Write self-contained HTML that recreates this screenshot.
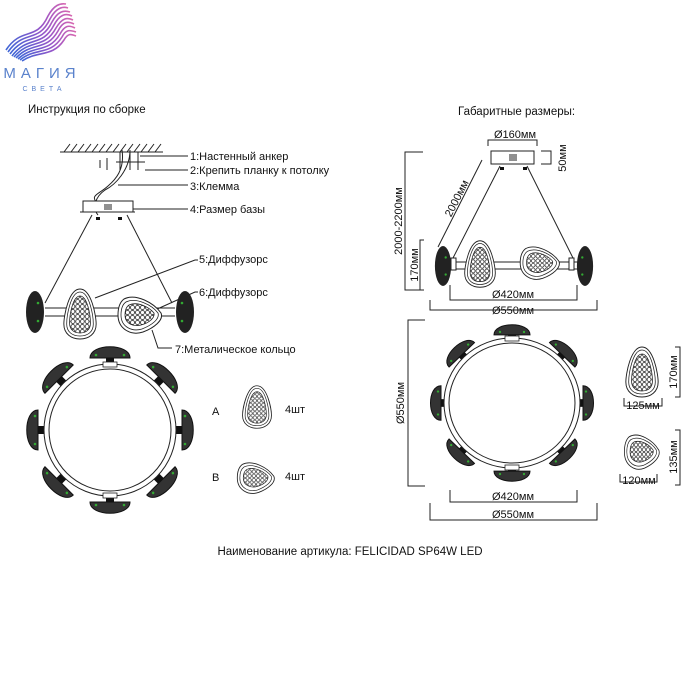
<!DOCTYPE html>
<html><head><meta charset="utf-8"><style>
html,body{margin:0;padding:0;background:#fff;}
svg{display:block;font-family:"Liberation Sans",sans-serif;}
</style></head><body>
<svg width="700" height="700" viewBox="0 0 700 700" xmlns="http://www.w3.org/2000/svg">
<defs>
<linearGradient id="wg" x1="0" x2="1" y1="0" y2="0">
<stop offset="0" stop-color="#3f66d6"/><stop offset="0.6" stop-color="#9a55c8"/><stop offset="1" stop-color="#d868b0"/></linearGradient>
<pattern id="dots" width="5" height="5" patternUnits="userSpaceOnUse">
<rect width="5" height="5" fill="#fff"/><circle cx="2.5" cy="2.5" r="2" fill="none" stroke="#222" stroke-width="0.8"/></pattern>
<g id="egg">
<path d="M0,-25 C12,-25 17,2 17,10 C17,20 9,25 0,25 C-9,25 -17,20 -17,10 C-17,2 -12,-25 0,-25Z" fill="#fff" stroke="#222" stroke-width="1"/>
<path d="M0,-22 C10,-22 14,2 14,10 C14,18 8,22 0,22 C-8,22 -14,18 -14,10 C-14,2 -10,-22 0,-22Z" fill="none" stroke="#222" stroke-width="0.8"/>
<path d="M0,-18 C8,-18 11,2 11,9 C11,16 6,19 0,19 C-6,19 -11,16 -11,9 C-11,2 -8,-18 0,-18Z" fill="url(#dots)" stroke="#222" stroke-width="0.8"/>
</g>
<g id="tri">
<path d="M-16,-16 C-4,-22 14,-12 21,-2 C24,5 14,13 3,17 C-9,21 -22,14 -22,0 C-22,-8 -20,-13 -16,-16Z" fill="#fff" stroke="#222" stroke-width="1"/>
<path d="M-14,-13 C-4,-18 12,-10 18,-2 C20,4 12,10 2,14 C-8,17 -19,12 -19,0 C-19,-7 -17,-11 -14,-13Z" fill="none" stroke="#222" stroke-width="0.8"/>
<path d="M-11,-10 C-3,-14 9,-8 14,-2 C15,3 9,8 1,10 C-6,12 -15,9 -15,0 C-15,-5 -14,-8 -11,-10Z" fill="url(#dots)" stroke="#222" stroke-width="0.8"/>
</g>
<g id="podL">
<path d="M-20,3 C-20,-12 20,-12 20,3 Z" fill="#333" stroke="#111"/>
<rect x="-4" y="3" width="8" height="6" fill="#111"/>
<circle cx="-14" cy="0" r="1.3" fill="#3a3"/><circle cx="14" cy="0" r="1.3" fill="#3a3"/>
</g>
<g id="podR">
<path d="M-18,3 C-18,-11 18,-11 18,3 Z" fill="#333" stroke="#111"/>
<rect x="-4" y="3" width="8" height="5" fill="#111"/>
<circle cx="-12" cy="0" r="1.2" fill="#3a3"/><circle cx="12" cy="0" r="1.2" fill="#3a3"/>
</g>
<g id="sidepod">
<ellipse cx="0" cy="0" rx="9" ry="21" fill="#222"/>
<circle cx="3" cy="-9" r="1.3" fill="#3a3"/><circle cx="3" cy="9" r="1.3" fill="#3a3"/>
</g>
</defs>

<!-- logo -->
<g fill="none" stroke="url(#wg)" stroke-width="1.6">
<path d="M6,50 C22,26 36,42 48,16 C54,5 60,3 66,4"/>
<path d="M8,52 C24,29 38,44 50,19 C56,8 62,6 68,8"/>
<path d="M10,54 C26,32 40,46 52,22 C58,11 64,10 70,12"/>
<path d="M12,56 C28,35 42,48 54,25 C60,14 66,13 72,16"/>
<path d="M14,57 C30,38 44,50 56,28 C62,18 67,17 73,20"/>
<path d="M16,58 C32,41 46,52 58,31 C63,21 68,21 74,24"/>
<path d="M18,59 C34,44 48,54 60,34 C65,25 69,25 75,28"/>
<path d="M20,60 C36,47 50,56 62,37 C66,29 70,30 76,32"/>
<path d="M22,61 C38,50 52,58 64,40 C68,33 71,34 76,36"/>
</g>
<text x="42" y="78" text-anchor="middle" font-size="15" fill="#5a82cc" letter-spacing="5">МАГИЯ</text>
<text x="44" y="91" text-anchor="middle" font-size="7" fill="#5a82cc" letter-spacing="4">СВЕТА</text>

<g font-size="11.5" fill="#111">
<text x="28" y="113">Инструкция по сборке</text>
<text x="458" y="115">Габаритные размеры:</text>
<text x="350" y="555" text-anchor="middle">Наименование артикула: FELICIDAD SP64W LED</text>
</g>

<!-- LEFT side view -->
<g stroke="#222" stroke-width="1" fill="none">
<line x1="60" y1="152" x2="163" y2="152"/>
<path d="M64,152 l6,-8 M71,152 l6,-8 M78,152 l6,-8 M85,152 l6,-8 M92,152 l6,-8 M99,152 l6,-8 M106,152 l6,-8 M113,152 l6,-8 M120,152 l6,-8 M127,152 l6,-8 M134,152 l6,-8 M141,152 l6,-8 M148,152 l6,-8 M155,152 l6,-8"/>
<line x1="116" y1="162" x2="145" y2="162"/>
<path d="M120,152 v18 M130,152 v18 M138,152 v18"/>
<path d="M107,158 v12 M100,160 v8"/>
<path d="M122,150 C125,170 115,180 108,186 C98,195 90,195 97,203 M130,150 C130,170 115,185 105,190 C95,197 92,208 98,215"/>
<rect x="83" y="201" width="50" height="11" fill="#fff"/>
<line x1="80" y1="212" x2="135" y2="212"/>
<path d="M105,204 v6 M107,204 v6 M109,204 v6 M111,204 v6"/>
<line x1="92" y1="215" x2="45" y2="303"/>
<line x1="127" y1="215" x2="172" y2="303"/>
<line x1="140" y1="156" x2="188" y2="156"/>
<line x1="145" y1="170" x2="188" y2="170"/>
<line x1="118" y1="185" x2="188" y2="185"/>
<line x1="133" y1="209" x2="188" y2="209"/>
<polyline points="95,298 195,260 198,260"/>
<polyline points="155,310 195,292 198,292"/>
<polyline points="152,330 158,348 172,348"/>
<line x1="45" y1="308" x2="175" y2="308"/>
<line x1="45" y1="316" x2="175" y2="316"/>
</g>
<rect x="96" y="217" width="4" height="3" fill="#111"/><rect x="118" y="217" width="4" height="3" fill="#111"/>
<use href="#sidepod" x="35" y="312"/>
<use href="#sidepod" transform="translate(185,312) scale(-1,1)"/>
<use href="#egg" transform="translate(80,314) scale(0.95,1)"/>
<use href="#tri" transform="translate(140,315)"/>
<g font-size="11" fill="#111">
<text x="190" y="160">1:Настенный анкер</text>
<text x="190" y="174">2:Крепить планку к потолку</text>
<text x="190" y="190">3:Клемма</text>
<text x="190" y="213">4:Размер базы</text>
<text x="199" y="263">5:Диффузорс</text>
<text x="199" y="296">6:Диффузорс</text>
<text x="175" y="353">7:Металическое кольцо</text>
</g>

<!-- LEFT ring top -->
<g>
<use href="#podL" transform="translate(110,430) rotate(0) translate(0,-75)"/>
<use href="#podL" transform="translate(110,430) rotate(45) translate(0,-75)"/>
<use href="#podL" transform="translate(110,430) rotate(90) translate(0,-75)"/>
<use href="#podL" transform="translate(110,430) rotate(135) translate(0,-75)"/>
<use href="#podL" transform="translate(110,430) rotate(180) translate(0,-75)"/>
<use href="#podL" transform="translate(110,430) rotate(225) translate(0,-75)"/>
<use href="#podL" transform="translate(110,430) rotate(270) translate(0,-75)"/>
<use href="#podL" transform="translate(110,430) rotate(315) translate(0,-75)"/>
<circle cx="110" cy="430" r="66" fill="#fff" stroke="#222"/>
<circle cx="110" cy="430" r="61" fill="#fff" stroke="#222"/>
<rect x="103" y="362" width="14" height="5" fill="#fff" stroke="#222" stroke-width="0.8"/>
<rect x="103" y="493" width="14" height="5" fill="#fff" stroke="#222" stroke-width="0.8"/>
</g>
<use href="#egg" transform="translate(257,407) scale(0.85,0.85)"/>
<use href="#tri" transform="translate(256,478) scale(0.85)"/>
<g font-size="11" fill="#111">
<text x="212" y="415">A</text><text x="285" y="413">4шт</text>
<text x="212" y="481">B</text><text x="285" y="480">4шт</text>
</g>

<!-- RIGHT side view -->
<g stroke="#222" stroke-width="1" fill="none">
<polyline points="488,146 488,140 537,140 537,146"/>
<rect x="491" y="151" width="43" height="13" fill="#fff"/>
<path d="M510,154 v7 M512,154 v7 M514,154 v7 M516,154 v7"/>
<polyline points="541,151 551,151 551,164 541,164"/>
<polyline points="423,152 405,152 405,290 423,290"/>
<polyline points="424,240 420,240 420,290 424,290"/>
<line x1="482" y1="160" x2="438" y2="247"/>
<line x1="500" y1="166" x2="453" y2="258"/>
<line x1="527" y1="166" x2="573" y2="258"/>
<line x1="447" y1="262" x2="578" y2="262"/>
<line x1="447" y1="269" x2="578" y2="269"/>
<polyline points="450,285 450,300 577,300 577,285"/>
<polyline points="430,300 430,310 597,310 597,300"/>
<polyline points="425,320 408,320 408,486 425,486"/>
<polyline points="450,490 450,502 577,502 577,490"/>
<polyline points="430,503 430,520 597,520 597,503"/>
<polyline points="675,347 680,347 680,397 675,397"/>
<polyline points="624,398 624,406 662,406 662,398"/>
<polyline points="675,430 680,430 680,485 675,485"/>
<polyline points="620,474 620,482 657,482 657,474"/>
</g>
<rect x="500" y="167" width="4" height="3" fill="#111"/><rect x="523" y="167" width="4" height="3" fill="#111"/>
<use href="#sidepod" transform="translate(443,266) scale(0.9,0.95)"/>
<use href="#sidepod" transform="translate(585,266) scale(-0.9,0.95)"/>
<rect x="451" y="258" width="5" height="12" fill="#fff" stroke="#222"/>
<rect x="569" y="258" width="5" height="12" fill="#fff" stroke="#222"/>
<use href="#egg" transform="translate(480,264) scale(0.9,0.93)"/>
<use href="#tri" transform="translate(540,263) scale(0.9)"/>

<!-- RIGHT ring top -->
<g>
<use href="#podR" transform="translate(512,403) scale(1,0.96) rotate(0) translate(0,-74)"/>
<use href="#podR" transform="translate(512,403) scale(1,0.96) rotate(45) translate(0,-74)"/>
<use href="#podR" transform="translate(512,403) scale(1,0.96) rotate(90) translate(0,-74)"/>
<use href="#podR" transform="translate(512,403) scale(1,0.96) rotate(135) translate(0,-74)"/>
<use href="#podR" transform="translate(512,403) scale(1,0.96) rotate(180) translate(0,-74)"/>
<use href="#podR" transform="translate(512,403) scale(1,0.96) rotate(225) translate(0,-74)"/>
<use href="#podR" transform="translate(512,403) scale(1,0.96) rotate(270) translate(0,-74)"/>
<use href="#podR" transform="translate(512,403) scale(1,0.96) rotate(315) translate(0,-74)"/>
<ellipse cx="512" cy="403" rx="68" ry="65" fill="#fff" stroke="#222"/>
<ellipse cx="512" cy="403" rx="63" ry="60" fill="#fff" stroke="#222"/>
<rect x="505" y="336" width="14" height="5" fill="#fff" stroke="#222" stroke-width="0.8"/>
<rect x="505" y="465" width="14" height="5" fill="#fff" stroke="#222" stroke-width="0.8"/>
</g>
<use href="#egg" transform="translate(642,372) scale(0.95,1)"/>
<use href="#tri" transform="translate(642,452) scale(0.8,0.95)"/>

<g font-size="11" fill="#111">
<text x="515" y="138" text-anchor="middle">Ø160мм</text>
<text transform="translate(566,158) rotate(-90)" text-anchor="middle">50мм</text>
<text transform="translate(402,221) rotate(-90)" text-anchor="middle">2000-2200мм</text>
<text transform="translate(460,200) rotate(-63)" text-anchor="middle">2000мм</text>
<text transform="translate(418,265) rotate(-90)" text-anchor="middle">170мм</text>
<text x="513" y="298" text-anchor="middle">Ø420мм</text>
<text x="513" y="314" text-anchor="middle">Ø550мм</text>
<text transform="translate(404,403) rotate(-90)" text-anchor="middle">Ø550мм</text>
<text x="513" y="500" text-anchor="middle">Ø420мм</text>
<text x="513" y="518" text-anchor="middle">Ø550мм</text>
<text transform="translate(677,372) rotate(-90)" text-anchor="middle">170мм</text>
<text x="643" y="409" text-anchor="middle">125мм</text>
<text transform="translate(677,457) rotate(-90)" text-anchor="middle">135мм</text>
<text x="639" y="484" text-anchor="middle">120мм</text>
</g>
</svg>
</body></html>
